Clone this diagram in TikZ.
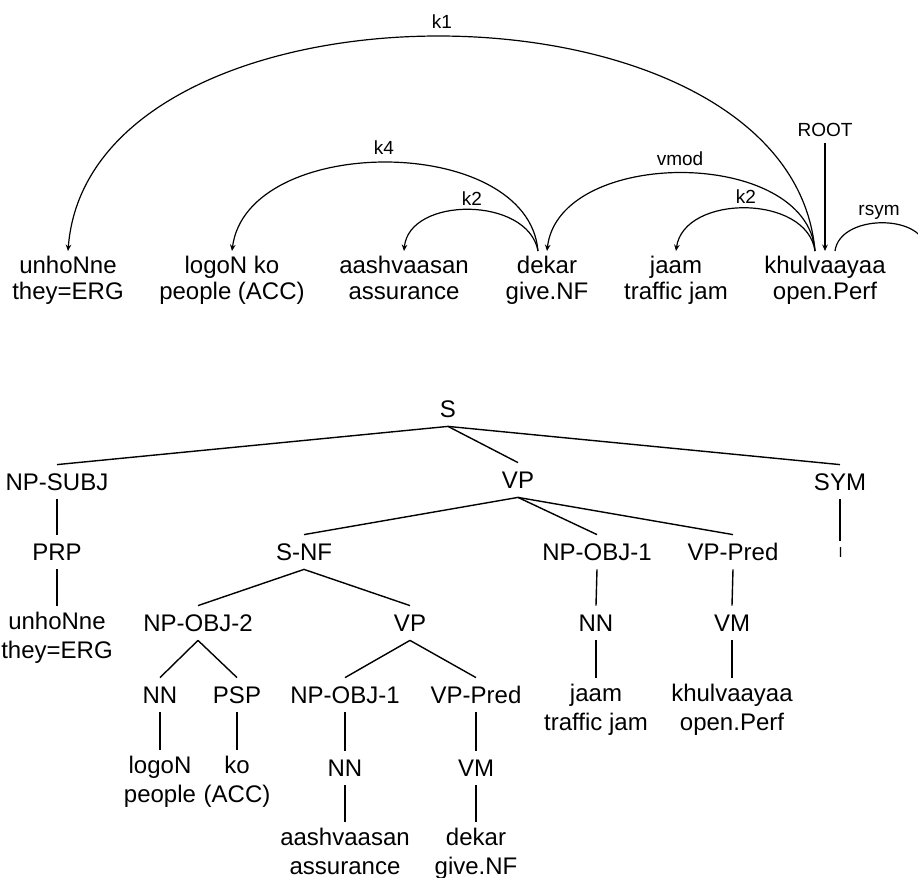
\documentclass[tikz,border=0pt]{standalone}
\usepackage{fontspec}
\setmainfont{Liberation Sans}
\newfontfamily\devfont[Script=Devanagari]{Noto Sans}
\usetikzlibrary{arrows.meta,positioning}

\tikzset{
	word/.style={align=center, anchor=north, inner xsep=1pt, inner ysep=2.5pt, font=\fontsize{12}{13}\selectfont},
	deplabel/.style={inner sep=0pt, font=\fontsize{9.5}{11}\selectfont},
	deparc/.style={line width=0.6pt, -{Stealth[length=3.2pt,width=2.8pt]}},
	cat/.style={inner xsep=1pt, inner ysep=4.2pt, text height=8.6pt, text depth=0pt, font=\fontsize{12}{14.5}\selectfont},
	leaf/.style={align=center, anchor=north, inner xsep=1pt, inner ysep=2.9pt, font=\fontsize{12}{14.5}\selectfont},
	branch/.style={line width=0.7pt}
}

\begin{document}
\begin{tikzpicture}[x=0.5pt,y=-0.5pt]
                \useasboundingbox (0,0) rectangle (918,878);
                \clip (0,0) rectangle (918,878);
                
                % Words of the dependency tree
                \node[word] (d-unho) at (68,251) {unhoNne\\they=ERG};
                \node[word] (d-logo) at (232,251) {logoN ko\\people (ACC)};
                \node[word] (d-aash) at (404,251) {aashvaasan\\assurance};
                \node[word] (d-dekar) at (547,251) {dekar\\give.NF};
                \node[word] (d-jaam) at (676,251) {jaam\\traffic jam};
                \node[word] (d-khul) at (825,251) {khulvaayaa\\open.Perf};
                \coordinate (d-sym) at (926,251);
                
                % Drawing arc k1
                \draw[deparc] ([xshift=-5pt]d-khul.north) .. controls +(-25,-286) and +(22,-286) .. (d-unho.north);
                \node[deplabel] (l-k1) at (442,22) {k1};
                
                % Drawing arc k4
                \draw[deparc] ([xshift=-4.5pt]d-dekar.north) .. controls +(-10,-118) and +(15,-118) .. (d-logo.north);
                \node[deplabel] (l-k4) at (384,148) {k4};
                
                % Drawing arc k2
                \draw[deparc] ([xshift=-4.5pt]d-dekar.north) .. controls +(-10,-55) and +(5,-55) .. (d-aash.north);
                \node[deplabel] (l-k2a) at (472,199) {k2};
                
                % Drawing arc vmod
                \draw[deparc] ([xshift=-5pt]d-khul.north) .. controls +(-8,-104) and +(12,-104) .. (d-dekar.north);
                \node[deplabel] (l-vmod) at (680,159) {vmod};
                
                % Drawing arc k2
                \draw[deparc] ([xshift=-5pt]d-khul.north) .. controls +(-8,-57) and +(8,-57) .. (d-jaam.north);
                \node[deplabel] (l-k2b) at (746,197) {k2};
                
                % Drawing arrow ROOT
                \node[deplabel] (d-root) at (825,130) {ROOT};
                \draw[deparc] ([yshift=-3pt]d-root.south) -- (d-khul.north);
                
                % Drawing arc rsym
                \draw[deparc] ([xshift=5pt]d-khul.north) .. controls +(5,-37) and +(-5,-37) .. (d-sym);
                \node[deplabel] (l-rsym) at (879,212) {rsym};
                
                % Nodes of the phrase structure tree
                \node[cat] (t-s) at (448,409) {S};
                \node[cat] (t-npsubj) at (57,482) {NP-SUBJ};
                \node[cat] (t-vp) at (518,480) {VP};
                \node[cat] (t-sym) at (840,482) {SYM};
                \node[cat] (t-prp) at (57,552) {PRP};
                \node[cat] (t-snf) at (304,552) {S-NF};
                \node[cat] (t-npobja) at (597,552) {NP-OBJ-1};
                \node[cat] (t-vpreda) at (733,552) {VP-Pred};
                \node[leaf, font=\devfont\fontsize{8}{9}\selectfont] (t-danda) at (840,541) {।};
                \node[leaf] (t-unho) at (57,606) {unhoNne\\they=ERG};
                \node[cat] (t-npobjb) at (198,623) {NP-OBJ-2};
                \node[cat] (t-vpb) at (410,623) {VP};
                \node[cat] (t-nna) at (596,623) {NN};
                \node[cat] (t-vma) at (732,623) {VM};
                \node[cat] (t-nnb) at (160,695) {NN};
                \node[cat] (t-psp) at (237,695) {PSP};
                \node[cat] (t-npobjc) at (345,695) {NP-OBJ-1};
                \node[cat] (t-vpredb) at (476,695) {VP-Pred};
                \node[leaf] (t-jaam) at (596,678) {jaam\\traffic jam};
                \node[leaf] (t-khul) at (732,678) {khulvaayaa\\open.Perf};
                \node[leaf] (t-logo) at (160,750) {logoN\\people};
                \node[leaf] (t-ko) at (237,750) {ko\\(ACC)};
                \node[cat] (t-nnc) at (345,768) {NN};
                \node[cat] (t-vmb) at (476,768) {VM};
                \node[leaf] (t-aash) at (345,822) {aashvaasan\\assurance};
                \node[leaf] (t-dekar) at (476,822) {dekar\\give.NF};
                
                % Drawing branches
                \draw[branch] (t-s.south) -- (t-npsubj.north);
                \draw[branch] (t-s.south) -- (t-vp.north);
                \draw[branch] (t-s.south) -- (t-sym.north);
                \draw[branch] (t-npsubj.south) -- (t-prp.north);
                \draw[branch] (t-prp.south) -- (t-unho.north);
                \draw[branch] (t-sym.south) -- (t-danda.north);
                \draw[branch] (t-vp.south) -- (t-snf.north);
                \draw[branch] (t-vp.south) -- (t-npobja.north);
                \draw[branch] (t-vp.south) -- (t-vpreda.north);
                \draw[branch] (t-snf.south) -- (t-npobjb.north);
                \draw[branch] (t-snf.south) -- (t-vpb.north);
                \draw[branch] (t-npobja.south) -- (t-nna.north);
                \draw[branch] (t-nna.south) -- (t-jaam.north);
                \draw[branch] (t-vpreda.south) -- (t-vma.north);
                \draw[branch] (t-vma.south) -- (t-khul.north);
                \draw[branch] (t-npobjb.south) -- (t-nnb.north);
                \draw[branch] (t-npobjb.south) -- (t-psp.north);
                \draw[branch] (t-nnb.south) -- (t-logo.north);
                \draw[branch] (t-psp.south) -- (t-ko.north);
                \draw[branch] (t-vpb.south) -- (t-npobjc.north);
                \draw[branch] (t-vpb.south) -- (t-vpredb.north);
                \draw[branch] (t-npobjc.south) -- (t-nnc.north);
                \draw[branch] (t-nnc.south) -- (t-aash.north);
                \draw[branch] (t-vpredb.south) -- (t-vmb.north);
                \draw[branch] (t-vmb.south) -- (t-dekar.north);
\end{tikzpicture}
\end{document}
